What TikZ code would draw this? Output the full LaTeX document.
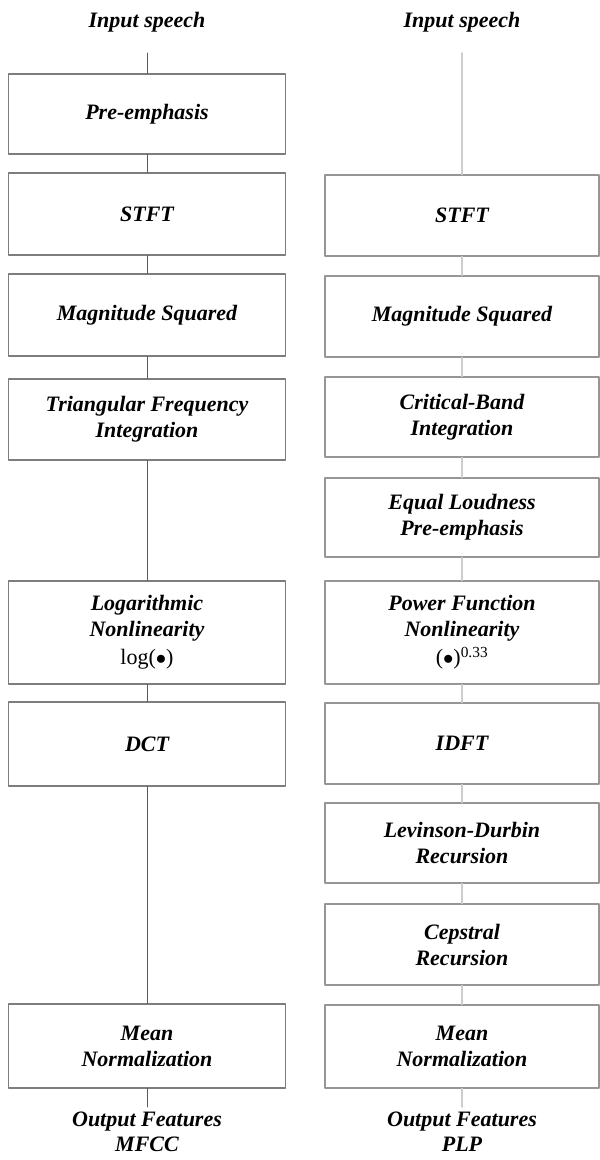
\documentclass[tikz,border=0pt]{standalone}
\usepackage{fontspec}
\setmainfont{Liberation Serif}
\usepackage{xcolor}
\definecolor{boxgray}{RGB}{125,125,125}
\definecolor{boxgrayR}{RGB}{150,150,150}
\definecolor{lnL}{RGB}{90,90,90}
\definecolor{lnR}{RGB}{205,205,205}

\begin{document}
\begin{tikzpicture}[line cap=round,line join=round,x=1pt,y=-1pt,
  box/.style={draw=boxgray, line width=1.2pt, inner sep=0pt, align=center,
    font=\fontsize{22}{26}\selectfont\bfseries\itshape},
  boxL/.style={box, minimum width=277pt},
  boxR/.style={box, draw=boxgrayR, minimum width=274pt},
  lbl/.style={align=center, inner sep=0pt, font=\fontsize{22}{25}\selectfont\bfseries\itshape},
  wireL/.style={draw=lnL, line width=0.8pt},
  wireR/.style={draw=lnR, line width=1.6pt}]

\useasboundingbox (0,0) rectangle (600,1160);

% MFCC column
\node [lbl] (inL) at (147,22) {Input speech};
\coordinate (inLend) at (147,53);
\node [boxL, minimum height=80pt] (pre) at (147,114) {Pre-emphasis};
\node [boxL, minimum height=82pt] (stftL) at (147,214) {STFT};
\node [boxL, minimum height=82pt] (magL) at (147,315) {Magnitude Squared};
\node [boxL, minimum height=81pt] (triL) at (147,419.5) {Triangular Frequency\\Integration};
\node [boxL, minimum height=103pt] (logL) at (147,632.5) {Logarithmic\\Nonlinearity\\[2pt]{\normalfont log($\bullet$)}};
\node [boxL, minimum height=84pt] (dctL) at (147,744) {DCT};
\node [boxL, minimum height=84pt] (meanL) at (147,1046) {Mean\\Normalization};
\coordinate (outLend) at (147,1107);
\node [lbl] (outL) at (147,1132) {Output Features\\MFCC};

\draw [wireL] (inLend) -- (pre);
\draw [wireL] (pre) -- (stftL);
\draw [wireL] (stftL) -- (magL);
\draw [wireL] (magL) -- (triL);
\draw [wireL] (triL) -- (logL);
\draw [wireL] (logL) -- (dctL);
\draw [wireL] (dctL) -- (meanL);
\draw [wireL] (meanL) -- (outLend);

% PLP column
\node [lbl] (inR) at (462,22) {Input speech};
\coordinate (inRend) at (462,53);
\node [boxR, minimum height=81pt] (stftR) at (462,215.5) {STFT};
\node [boxR, minimum height=81pt] (magR) at (462,316.5) {Magnitude Squared};
\node [boxR, minimum height=80pt] (cbR) at (462,417) {Critical-Band\\Integration};
\node [boxR, minimum height=79pt] (eqR) at (462,517.5) {Equal Loudness\\Pre-emphasis};
\node [boxR, minimum height=103pt] (powR) at (462,632.5) {Power Function\\Nonlinearity\\[2pt]{\normalfont ($\bullet$)\textsuperscript{0.33}}};
\node [boxR, minimum height=81pt] (idftR) at (462,743.5) {IDFT};
\node [boxR, minimum height=80pt] (levR) at (462,843) {Levinson-Durbin\\Recursion};
\node [boxR, minimum height=81pt] (cepR) at (462,944.5) {Cepstral\\Recursion};
\node [boxR, minimum height=83pt] (meanR) at (462,1046.5) {Mean\\Normalization};
\coordinate (outRend) at (462,1107);
\node [lbl] (outR) at (462,1132) {Output Features\\PLP};

\draw [wireR] (inRend) -- (stftR);
\draw [wireR] (stftR) -- (magR);
\draw [wireR] (magR) -- (cbR);
\draw [wireR] (cbR) -- (eqR);
\draw [wireR] (eqR) -- (powR);
\draw [wireR] (powR) -- (idftR);
\draw [wireR] (idftR) -- (levR);
\draw [wireR] (levR) -- (cepR);
\draw [wireR] (cepR) -- (meanR);
\draw [wireR] (meanR) -- (outRend);
\end{tikzpicture}
\end{document}
